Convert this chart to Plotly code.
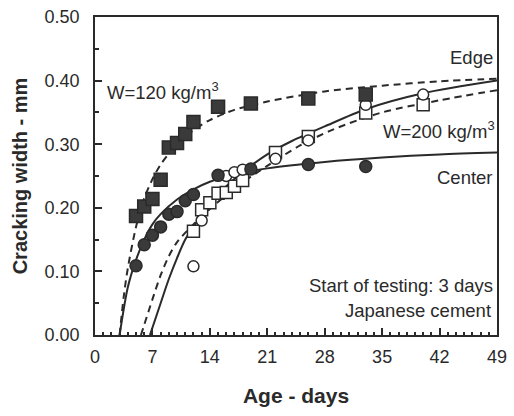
import plotly.graph_objects as go

# ---- data ----
fs_days = [5, 6, 7, 8, 9, 10, 11, 12, 15, 19, 26, 33]
fs_vals = [0.187, 0.202, 0.214, 0.244, 0.295, 0.302, 0.316, 0.335, 0.359, 0.364, 0.372, 0.378]

fc_days = [5, 6, 7, 8, 9, 10, 11, 12, 15, 19, 26, 33]
fc_vals = [0.109, 0.142, 0.157, 0.170, 0.190, 0.194, 0.211, 0.221, 0.251, 0.261, 0.268, 0.265]

os_days = [12, 13, 14, 15, 16, 17, 18, 22, 26, 33, 40]
os_vals = [0.163, 0.197, 0.208, 0.223, 0.224, 0.234, 0.243, 0.287, 0.312, 0.349, 0.362]

oc_days = [12, 13, 16, 17, 18, 22, 26, 33, 40]
oc_vals = [0.108, 0.180, 0.250, 0.256, 0.260, 0.277, 0.306, 0.362, 0.378]

# fitted curves
a_days = [3, 3.5, 4, 5, 6, 7, 8, 10, 12, 14, 17, 21, 28, 35, 42, 49]
a_vals = [0, 0.06, 0.105, 0.17, 0.215, 0.245, 0.268, 0.30, 0.322, 0.338, 0.354, 0.367, 0.383, 0.392, 0.399, 0.403]

b_days = [3, 4, 5, 6, 7, 8, 10, 12, 14, 17, 21, 28, 35, 42, 49]
b_vals = [0, 0.075, 0.118, 0.150, 0.174, 0.190, 0.213, 0.229, 0.241, 0.252, 0.262, 0.272, 0.279, 0.284, 0.287]

c_days = [6.7, 8, 9, 10, 11, 12, 14, 16, 18, 21, 24, 28, 33, 40, 49]
c_vals = [0, 0.05, 0.088, 0.121, 0.150, 0.170, 0.207, 0.234, 0.256, 0.284, 0.305, 0.328, 0.355, 0.380, 0.400]

d_days = [5.6, 6, 7, 8, 9, 10, 12, 14, 16, 18, 21, 25, 29, 35, 42, 49]
d_vals = [0, 0.016, 0.056, 0.094, 0.124, 0.146, 0.174, 0.198, 0.220, 0.240, 0.266, 0.298, 0.323, 0.350, 0.369, 0.385]

x_ticks = [0, 7, 14, 21, 28, 35, 42, 49]
y_ticks = [0.0, 0.1, 0.2, 0.3, 0.4, 0.5]

FONT = "Liberation Sans, Arial, Helvetica, sans-serif"
INK = "#2a2a2a"

fig = go.Figure()

def curve(xs, ys, dash):
    fig.add_trace(go.Scatter(x=xs, y=ys, mode="lines",
                             line=dict(color=INK, width=2, dash=dash, shape="spline", smoothing=0.8),
                             hoverinfo="skip", showlegend=False))

curve(a_days, a_vals, "7px,5px")
curve(b_days, b_vals, "solid")
curve(c_days, c_vals, "solid")
curve(d_days, d_vals, "7px,5px")

def pts(xs, ys, symbol, fill, size):
    fig.add_trace(go.Scatter(x=xs, y=ys, mode="markers",
                             marker=dict(symbol=symbol, size=size, color=fill,
                                         line=dict(color=INK, width=1.5)),
                             showlegend=False))

pts(os_days, os_vals, "square", "white", 12)
pts(oc_days, oc_vals, "circle", "white", 11)
pts(fs_days, fs_vals, "square", "#3a3a3a", 13)
pts(fc_days, fc_vals, "circle", "#3a3a3a", 12)

ann = [
    dict(x=48.7, y=0.436, text="Edge", xanchor="right"),
    dict(x=1.2, y=0.383, text="W=120 kg/m<sup>3</sup>", xanchor="left"),
    dict(x=49.0, y=0.322, text="W=200 kg/m<sup>3</sup>", xanchor="right"),
    dict(x=48.7, y=0.247, text="Center", xanchor="right"),
    dict(x=48.7, y=0.078, text="Start of testing: 3 days", xanchor="right"),
    dict(x=48.5, y=0.039, text="Japanese cement", xanchor="right"),
]
for a in ann:
    fig.add_annotation(xref="x", yref="y", showarrow=False, yanchor="middle",
                       font=dict(family=FONT, size=18.5, color=INK), **a)

axis_common = dict(showline=True, linecolor=INK, linewidth=1.5, mirror=True,
                   ticks="inside", tickcolor=INK, showgrid=False, zeroline=False,
                   tickfont=dict(family=FONT, size=18, color=INK))

fig.update_xaxes(range=[0, 49], tickvals=x_ticks, ticklen=7, tickwidth=1.5,
                 minor=dict(dtick=1, ticklen=3, tickcolor=INK, ticks="inside"),
                 title=dict(text="<b>Age - days</b>", font=dict(family=FONT, size=21, color=INK), standoff=22),
                 ticklabelstandoff=5, ticklabeloverflow="allow",
                 **axis_common)
fig.update_yaxes(range=[0, 0.5], tickvals=y_ticks, tickformat=".2f", ticklen=7, tickwidth=1.5,
                 minor=dict(dtick=0.05, ticklen=4, tickcolor=INK, ticks="inside"),
                 title=dict(text="<b>Cracking width - mm</b>", font=dict(family=FONT, size=20, color=INK), standoff=12),
                 ticklabelstandoff=10,
                 **axis_common)

fig.update_layout(width=514, height=416, margin=dict(l=95, r=7, t=15, b=81),
                  plot_bgcolor="white", paper_bgcolor="white")

fig.write_html("out.html")
